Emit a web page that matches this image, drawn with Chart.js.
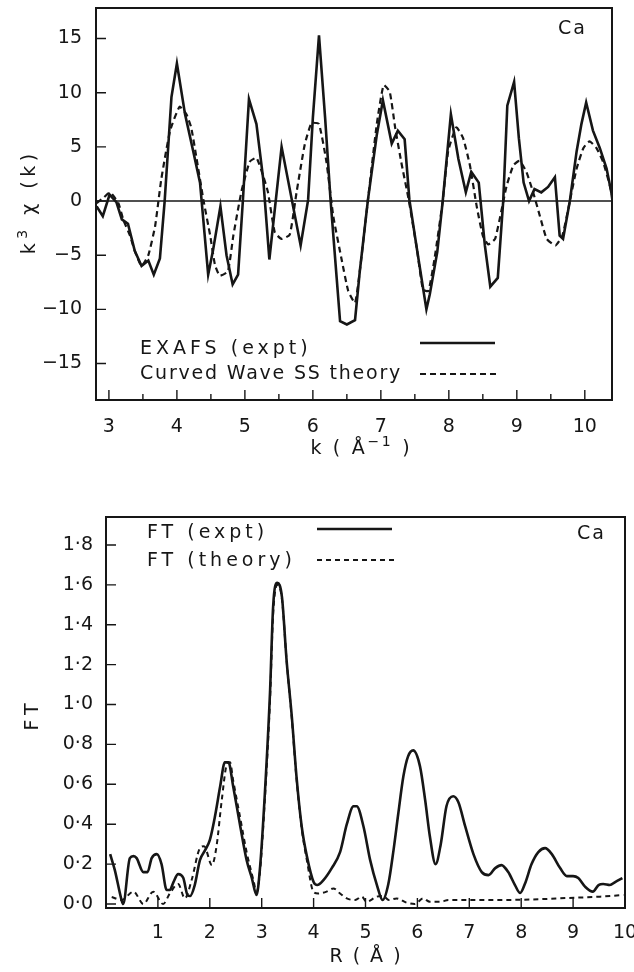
<!DOCTYPE html>
<html>
<head>
<meta charset="utf-8">
<script src="https://cdn.jsdelivr.net/npm/chart.js@4.4.1/dist/chart.umd.min.js"></script>
<style>
  html, body { margin: 0; padding: 0; background: #fff; }
  #wrap { position: relative; width: 634px; height: 972px; overflow: hidden; }
  canvas { position: absolute; left: 0; }
  #chi { top: 0; }
  #ft { top: 480px; }
</style>
</head>
<body>
<div id="wrap">
  <canvas id="chi" width="634" height="480"></canvas>
  <canvas id="ft" width="634" height="492"></canvas>
</div>
<script>
// EXAFS k^3 chi(k) for Ca: experiment vs curved-wave single scattering theory
const kExpt = [2.82, 2.91, 3.01, 3.11, 3.19, 3.28, 3.38, 3.48, 3.58, 3.66, 3.75, 3.82, 3.92, 4.00, 4.12, 4.24, 4.34, 4.46, 4.53, 4.64,
    4.73, 4.82, 4.90, 4.97, 5.06, 5.17, 5.27, 5.36, 5.54, 5.82, 5.93, 6.00, 6.09, 6.18, 6.26, 6.35, 6.40, 6.50, 6.62, 6.69,
    6.81, 6.94, 7.03, 7.16, 7.25, 7.35, 7.42, 7.53, 7.67, 7.72, 7.83, 7.91, 8.03, 8.14, 8.25, 8.33, 8.44, 8.53, 8.61, 8.72,
    8.80, 8.86, 8.96, 9.03, 9.10, 9.18, 9.26, 9.36, 9.46, 9.56, 9.63, 9.68, 9.78, 9.88, 9.95, 10.02, 10.12, 10.22, 10.32, 10.39, 10.43];
const chiExpt = [-0.5, -1.4, 0.6, -0.1, -1.7, -2.1, -4.6, -6.0, -5.5, -6.8, -5.3, 0, 9.6, 12.7, 8.0, 4.6, 1.7, -6.8, -4.6, -0.5,
    -5.0, -7.7, -6.8, 0, 9.4, 7.1, 2.0, -5.4, 5.0, -4.1, 0.1, 7.7, 15.3, 7.7, 0.1, -7.1, -11.1, -11.4, -11.0, -6.5,
    0.1, 6.1, 9.3, 5.3, 6.5, 5.7, 0.1, -4.4, -10.0, -8.6, -4.7, 0, 8.0, 3.9, 0.8, 2.7, 1.7, -4.1, -7.9, -7.1,
    0, 8.8, 11.0, 5.8, 1.7, 0, 1.1, 0.8, 1.3, 2.2, -3.2, -3.5, 0, 4.6, 7.1, 9.1, 6.5, 4.9, 3.0, 0.8, -1.0];
const kTheory = [2.82, 2.92, 3.02, 3.14, 3.21, 3.31, 3.38, 3.48, 3.58, 3.68, 3.77, 3.90, 4.04, 4.14, 4.21, 4.29, 4.39, 4.49, 4.56, 4.63,
    4.75, 4.83, 4.95, 5.07, 5.17, 5.27, 5.34, 5.44, 5.54, 5.66, 5.76, 5.88, 5.98, 6.09, 6.20, 6.30, 6.42, 6.52, 6.62, 6.69,
    6.81, 6.94, 7.04, 7.13, 7.21, 7.30, 7.41, 7.53, 7.62, 7.70, 7.79, 7.91, 7.99, 8.11, 8.21, 8.31, 8.41, 8.50, 8.58, 8.68,
    8.77, 8.85, 8.95, 9.04, 9.14, 9.24, 9.34, 9.44, 9.57, 9.67, 9.78, 9.88, 9.98, 10.07, 10.17, 10.27, 10.37, 10.42];
const chiTheory = [-0.2, 0.3, 0.8, -0.2, -1.7, -3.2, -4.6, -6.0, -5.0, -2.3, 2.0, 6.5, 8.7, 8.0, 6.8, 3.9, 0.1, -3.2, -5.9, -6.9,
    -6.5, -3.2, 0.9, 3.6, 4.0, 2.3, 0.8, -2.9, -3.5, -3.1, 0.8, 5.2, 7.2, 7.1, 3.6, -1.4, -5.3, -8.3, -9.4, -6.5,
    0.1, 7.1, 10.7, 10.1, 6.8, 3.6, 0.1, -4.4, -8.2, -8.3, -5.3, 0, 4.6, 6.8, 5.8, 3.3, -0.5, -3.2, -4.0, -3.5,
    -1.0, 1.4, 3.3, 3.7, 2.7, 0.8, -1.4, -3.5, -4.1, -3.2, 0, 3.0, 4.9, 5.5, 4.9, 3.6, 1.4, 0];
const kTicks = [3, 4, 5, 6, 7, 8, 9, 10];
const kMinorTicks = [3.5, 4.5, 5.5, 6.5, 7.5, 8.5, 9.5];
const chiTicks = [-15, -10, -5, 0, 5, 10, 15];

// Fourier transform magnitude vs R
const rExpt = [0.08, 0.17, 0.30, 0.33, 0.46, 0.53, 0.59, 0.72, 0.80, 0.88, 0.98, 1.07, 1.17, 1.23, 1.30, 1.39, 1.49, 1.57, 1.62, 1.71,
    1.81, 1.91, 2.00, 2.10, 2.20, 2.29, 2.36, 2.45, 2.58, 2.71, 2.81, 2.90, 2.97, 3.06, 3.16, 3.22, 3.30, 3.39, 3.48, 3.58,
    3.67, 3.77, 3.87, 4.00, 4.07, 4.19, 4.35, 4.51, 4.64, 4.77, 4.83, 4.96, 5.09, 5.22, 5.33, 5.44, 5.54, 5.63, 5.73, 5.82,
    5.92, 6.05, 6.15, 6.24, 6.35, 6.45, 6.56, 6.69, 6.79, 6.92, 7.08, 7.24, 7.37, 7.50, 7.62, 7.75, 7.88, 7.98, 8.07, 8.20,
    8.33, 8.46, 8.59, 8.75, 8.88, 9.00, 9.10, 9.23, 9.38, 9.49, 9.58, 9.71, 9.81, 9.95];
const ftExpt = [0.25, 0.17, 0.02, 0.0, 0.23, 0.24, 0.23, 0.16, 0.16, 0.23, 0.25, 0.20, 0.07, 0.07, 0.11, 0.15, 0.13, 0.045, 0.04, 0.095,
    0.22, 0.27, 0.32, 0.44, 0.59, 0.71, 0.71, 0.59, 0.40, 0.22, 0.13, 0.045, 0.19, 0.55, 1.06, 1.49, 1.61, 1.54, 1.22, 0.94,
    0.64, 0.39, 0.24, 0.11, 0.095, 0.12, 0.18, 0.26, 0.40, 0.49, 0.49, 0.39, 0.22, 0.095, 0.02, 0.10, 0.27, 0.45, 0.64, 0.74,
    0.77, 0.69, 0.52, 0.34, 0.20, 0.30, 0.49, 0.54, 0.51, 0.39, 0.25, 0.16, 0.145, 0.18, 0.195, 0.16, 0.095, 0.055, 0.10, 0.20,
    0.26, 0.28, 0.25, 0.18, 0.14, 0.14, 0.13, 0.087, 0.062, 0.095, 0.10, 0.095, 0.11, 0.13];
const rTheory = [0.11, 0.30, 0.53, 0.72, 0.91, 1.10, 1.23, 1.39, 1.52, 1.65, 1.81, 1.89, 2.04, 2.13, 2.23, 2.33, 2.39, 2.45, 2.58, 2.71,
    2.84, 2.90, 2.97, 3.06, 3.16, 3.22, 3.30, 3.39, 3.48, 3.58, 3.67, 3.77, 3.87, 4.00, 4.09, 4.25, 4.38, 4.51, 4.64, 4.80,
    4.93, 5.02, 5.22, 5.34, 5.45, 5.60, 5.79, 5.95, 6.11, 6.24, 6.44, 6.60, 7.59, 8.23, 8.88, 9.52, 9.97];
const ftTheory = [0.035, 0.02, 0.062, 0.0, 0.062, 0.0, 0.053, 0.10, 0.028, 0.12, 0.28, 0.29, 0.195, 0.29, 0.52, 0.70, 0.71, 0.62, 0.44, 0.26,
    0.12, 0.06, 0.17, 0.52, 1.02, 1.45, 1.60, 1.53, 1.22, 0.93, 0.63, 0.38, 0.22, 0.06, 0.053, 0.062, 0.078, 0.053, 0.028, 0.02,
    0.037, 0.011, 0.037, 0.04, 0.02, 0.028, 0.007, 0.0, 0.028, 0.011, 0.011, 0.02, 0.02, 0.023, 0.03, 0.037, 0.045];
const rTicks = [1, 2, 3, 4, 5, 6, 7, 8, 9, 10];
const ftTicks = [0, 0.2, 0.4, 0.6, 0.8, 1.0, 1.2, 1.4, 1.6, 1.8];

const INK = '#161616';
const FONT = '"DejaVu Sans", sans-serif';

const toPoints = (xs, ys) => xs.map((x, i) => ({ x: x, y: ys[i] }));

// draws a run of [text, isSuperscript] pieces with letter spacing
function richText(ctx, parts, x, y, spacing, align) {
    const fonts = ['19px ' + FONT, '14px ' + FONT];
    ctx.letterSpacing = spacing + 'px';
    let total = 0;
    parts.forEach(([t, sup]) => { ctx.font = fonts[sup ? 1 : 0]; total += ctx.measureText(t).width; });
    total -= spacing;
    let cx = align === 'center' ? x - total / 2 : x;
    ctx.textAlign = 'left';
    parts.forEach(([t, sup]) => {
        ctx.font = fonts[sup ? 1 : 0];
        ctx.fillText(t, cx, sup ? y - 7 : y);
        cx += ctx.measureText(t).width;
    });
    ctx.letterSpacing = '0px';
    ctx.font = fonts[0];
}

// frame, inward ticks, zero line, axis titles and the inline legend
const decor = {
    id: 'decor',
    beforeDatasetsDraw(chart, args, o) {
        if (!o.zeroLine) return;
        const { ctx, chartArea: a, scales: { y } } = chart;
        const py = y.getPixelForValue(0);
        ctx.save();
        ctx.strokeStyle = INK;
        ctx.lineWidth = 1.4;
        ctx.beginPath();
        ctx.moveTo(a.left, py);
        ctx.lineTo(a.right, py);
        ctx.stroke();
        ctx.restore();
    },
    afterDraw(chart, args, o) {
        const { ctx, chartArea: a, scales: { x, y } } = chart;
        ctx.save();
        ctx.strokeStyle = INK;
        ctx.fillStyle = INK;
        ctx.lineWidth = 2;
        ctx.strokeRect(a.left, a.top, a.right - a.left, a.bottom - a.top);

        ctx.lineWidth = 1.4;
        ctx.beginPath();
        o.xMajor.forEach(v => {
            const px = x.getPixelForValue(v);
            ctx.moveTo(px, a.bottom);
            ctx.lineTo(px, a.bottom - 10);
        });
        (o.xMinor || []).forEach(v => {
            const px = x.getPixelForValue(v);
            ctx.moveTo(px, a.bottom);
            ctx.lineTo(px, a.bottom - 6);
        });
        o.yMajor.forEach(v => {
            const py = y.getPixelForValue(v);
            ctx.moveTo(a.left, py);
            ctx.lineTo(a.left + 10, py);
        });
        ctx.stroke();

        ctx.textBaseline = 'middle';

        const xt = o.xTitle;
        richText(ctx, xt.parts, xt.x, xt.y, xt.spacing, 'center');

        const yt = o.yTitle;
        ctx.save();
        ctx.translate(yt.x, yt.y);
        ctx.rotate(-Math.PI / 2);
        richText(ctx, yt.parts, 0, 0, yt.spacing, 'center');
        ctx.restore();

        o.legend.forEach(item => {
            richText(ctx, [[item.label, false]], item.x, item.y, item.spacing, 'left');
            const ds = chart.data.datasets[item.ds];
            ctx.save();
            ctx.lineWidth = ds.borderWidth;
            ctx.setLineDash(ds.borderDash || []);
            ctx.beginPath();
            ctx.moveTo(item.from, item.lineY);
            ctx.lineTo(item.to, item.lineY);
            ctx.stroke();
            ctx.restore();
        });

        const n = o.note;
        richText(ctx, [[n.text, false]], n.x, n.y, n.spacing, 'left');
        ctx.restore();
    }
};

function axis(min, max, ticks, size, fmt, pad, horizontal) {
    return {
        type: 'linear',
        min: min,
        max: max,
        grid: { display: false },
        border: { display: false },
        afterBuildTicks: s => { s.ticks = ticks.map(v => ({ value: v })); },
        afterFit: s => {
            // fixed axis box, no extra room for edge labels
            if (horizontal) {
                s.height = size;
                s.paddingLeft = 0;
                s.paddingRight = 0;
            } else {
                s.width = size;
                s.paddingTop = 0;
                s.paddingBottom = 0;
            }
        },
        ticks: {
            autoSkip: false,
            maxRotation: 0,
            padding: pad,
            color: INK,
            font: { family: FONT, size: 19 },
            callback: fmt
        }
    };
}

const signed = v => v < 0 ? '\u2212' + Math.abs(v) : String(v);

new Chart(document.getElementById('chi'), {
    type: 'line',
    data: {
        datasets: [
            {
                label: 'EXAFS (expt)',
                data: toPoints(kExpt, chiExpt),
                borderColor: INK,
                borderWidth: 2.6,
                tension: 0,
                pointRadius: 0
            },
            {
                label: 'Curved Wave SS theory',
                data: toPoints(kTheory, chiTheory),
                borderColor: INK,
                borderWidth: 2.2,
                borderDash: [6, 4],
                tension: 0.15,
                pointRadius: 0
            }
        ]
    },
    options: {
        responsive: false,
        animation: false,
        devicePixelRatio: 1,
        layout: { autoPadding: false, padding: { left: 0, top: 8, right: 22, bottom: 0 } },
        plugins: {
            legend: { display: false },
            tooltip: { enabled: false },
            decor: {
                xMajor: kTicks,
                xMinor: kMinorTicks,
                yMajor: chiTicks,
                zeroLine: true,
                xTitle: { parts: [['k ( \u00c5', false], ['\u22121', true], [' )', false]], x: 360, y: 449, spacing: 2.7 },
                yTitle: { parts: [['k', false], ['3', true], [' \u03c7 (k)', false]], x: 30, y: 204, spacing: 4.5 },
                legend: [
                    { label: 'EXAFS (expt)', ds: 0, x: 140, y: 349, spacing: 4, from: 420, to: 495, lineY: 343 },
                    { label: 'Curved Wave SS theory', ds: 1, x: 140, y: 374, spacing: 1.8, from: 420, to: 498, lineY: 374 }
                ],
                note: { text: 'Ca', x: 558, y: 29, spacing: 2 }
            }
        },
        scales: {
            x: axis(2.81, 10.4, kTicks, 80, v => String(v), 8, true),
            y: axis(-18.37, 17.82, chiTicks, 96, signed, 6, false)
        }
    },
    plugins: [decor]
});

new Chart(document.getElementById('ft'), {
    type: 'line',
    data: {
        datasets: [
            {
                label: 'FT (expt)',
                data: toPoints(rExpt, ftExpt),
                borderColor: INK,
                borderWidth: 2.6,
                cubicInterpolationMode: 'monotone',
                pointRadius: 0
            },
            {
                label: 'FT (theory)',
                data: toPoints(rTheory, ftTheory),
                borderColor: INK,
                borderWidth: 2.0,
                borderDash: [5, 4],
                cubicInterpolationMode: 'monotone',
                pointRadius: 0
            }
        ]
    },
    options: {
        responsive: false,
        animation: false,
        devicePixelRatio: 1,
        layout: { autoPadding: false, padding: { left: 0, top: 37, right: 9, bottom: 0 } },
        plugins: {
            legend: { display: false },
            tooltip: { enabled: false },
            decor: {
                xMajor: rTicks,
                yMajor: ftTicks,
                zeroLine: false,
                xTitle: { parts: [['R ( \u00c5 )', false]], x: 365, y: 477, spacing: 2 },
                yTitle: { parts: [['FT', false]], x: 33, y: 237, spacing: 5 },
                legend: [
                    { label: 'FT (expt)', ds: 0, x: 147, y: 53, spacing: 4, from: 317, to: 392, lineY: 49 },
                    { label: 'FT (theory)', ds: 1, x: 147, y: 81, spacing: 4, from: 317, to: 395, lineY: 80 }
                ],
                note: { text: 'Ca', x: 577, y: 54, spacing: 2 }
            }
        },
        scales: {
            x: axis(0, 10, rTicks, 64, v => String(v), 6, true),
            y: axis(-0.02, 1.94, ftTicks, 106, v => v.toFixed(1).replace('.', '\u00b7'), 5, false)
        }
    },
    plugins: [decor]
});
</script>
</body>
</html>
